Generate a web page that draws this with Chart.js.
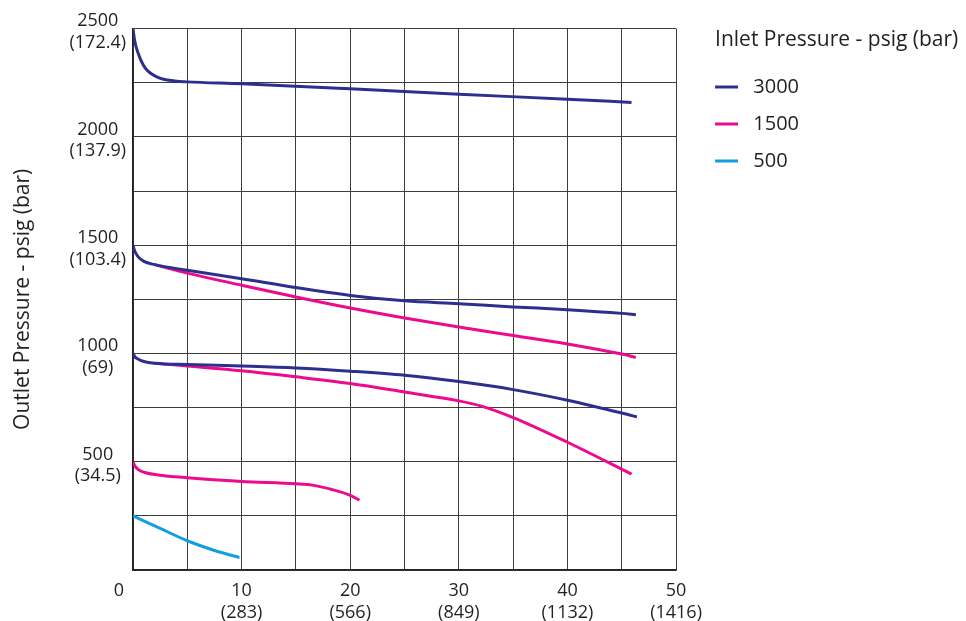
<!DOCTYPE html>
<html>
<head>
<meta charset="utf-8">
<title>Outlet vs flow</title>
<script src="https://cdn.jsdelivr.net/npm/chart.js@4.4.1/dist/chart.umd.min.js"></script>
<style>
  html, body { margin: 0; padding: 0; background: #fff; }
  #wrap { width: 966px; height: 621px; position: relative; }
</style>
</head>
<body>
<div id="wrap"><canvas id="pressureChart"></canvas></div>
<script>
// Inlet 3000 psig curves
const flow3000a = [0, 0.15, 0.46, 1.08, 2.3, 3.85, 5, 10, 20, 30, 40, 45.9];
const outlet3000a = [2500, 2445, 2388, 2321, 2275, 2258, 2254, 2245, 2222, 2197, 2174, 2159];
const flow3000b = [0, 0.15, 0.46, 1, 2, 5, 10, 15, 20, 25, 30, 35, 40, 45, 46.3];
const outlet3000b = [1500, 1474, 1447, 1425, 1410, 1384, 1345, 1304, 1268, 1243, 1230, 1215, 1202, 1185, 1179];
const flow3000c = [0, 0.15, 0.46, 1, 2, 5, 10, 15, 20, 25, 30, 35, 40, 45, 46.4];
const outlet3000c = [1000, 986, 974, 963, 955, 949, 942, 933, 918, 899, 870, 833, 784, 725, 707];

// Inlet 1500 psig curves
const flow1500a = [2, 5, 10, 15, 20, 25, 30, 35, 40, 45, 46.3];
const outlet1500a = [1410, 1371, 1315, 1261, 1210, 1164, 1122, 1083, 1044, 997, 982];
const flow1500b = [2, 5, 10, 15, 20, 25, 30, 32, 35, 40, 45.9];
const outlet1500b = [955, 942, 920, 892, 861, 822, 781, 758, 704, 590, 443];
const flow1500c = [0, 0.15, 0.46, 1.08, 2.3, 5, 10, 15, 16.5, 18.3, 20, 20.85];
const outlet1500c = [500, 483, 465, 450, 439, 426, 409, 398, 392, 372, 345, 322];

// Inlet 500 psig curve
const flow500a = [0, 2.5, 5, 7.5, 9.8];
const outlet500a = [250, 192, 135, 90, 58];

// tick labels
const xTickValues = [0, 10, 20, 30, 40, 50];
const xTickLpm = ['', '(283)', '(566)', '(849)', '(1132)', '(1416)'];
const yTickValues = [500, 1000, 1500, 2000, 2500];
const yTickBar = ['(34.5)', '(69)', '(103.4)', '(137.9)', '(172.4)'];

const seriesLabels = ['3000', '1500', '500'];
const seriesColors = ['#2d2f8f', '#ec0b8d', '#129fdf'];
const legendTitle = 'Inlet Pressure - psig (bar)';

const textColor = '#231f20';
Chart.defaults.font.family = "'Open Sans', sans-serif";
Chart.defaults.color = textColor;

// join several curves into one dataset, broken by a null point
function joinCurves(curves) {
  const pts = [];
  curves.forEach((c, i) => {
    if (i > 0) pts.push({ x: c[0][0], y: null });
    c[0].forEach((x, j) => pts.push({ x: x, y: c[1][j] }));
  });
  return pts;
}

const curveSets = [
  [[flow3000a, outlet3000a], [flow3000b, outlet3000b], [flow3000c, outlet3000c]],
  [[flow1500a, outlet1500a], [flow1500b, outlet1500b], [flow1500c, outlet1500c]],
  [[flow500a, outlet500a]]
];

const datasets = curveSets.map((curves, i) => ({
  label: seriesLabels[i],
  data: joinCurves(curves),
  borderColor: seriesColors[i],
  backgroundColor: seriesColors[i],
  borderWidth: 3,
  pointRadius: 0,
  spanGaps: false,
  cubicInterpolationMode: 'monotone',
  fill: false
}));

// legend title is wider than the legend box (which clips), so draw it here
const legendTitlePlugin = {
  id: 'legendTitleText',
  afterDraw(chart) {
    const lg = chart.legend;
    const ctx = chart.ctx;
    ctx.save();
    ctx.font = "21px 'Open Sans', sans-serif";
    ctx.fillStyle = textColor;
    ctx.textAlign = 'left';
    ctx.textBaseline = 'middle';
    ctx.fillText(legendTitle, lg.left + lg.options.labels.padding, lg.top + 12);
    ctx.restore();
  }
};

const gridColor = '#3d3d3d';

new Chart(document.getElementById('pressureChart'), {
  type: 'line',
  data: { datasets: datasets },
  plugins: [legendTitlePlugin],
  options: {
    responsive: true,
    maintainAspectRatio: false,
    animation: false,
    layout: { padding: { top: 28, right: 157, bottom: 0, left: 0 } },
    scales: {
      x: {
        type: 'linear',
        min: 0,
        max: 50,
        grid: { color: gridColor, lineWidth: 1, drawTicks: false },
        border: { color: textColor, width: 1.5 },
        ticks: {
          stepSize: 5,
          padding: 10,
          maxRotation: 0,
          autoSkip: false,
          font: { size: 18 },
          callback: function (value) {
            const i = xTickValues.indexOf(value);
            if (i < 0) return '';
            if (i === 0) return '0      ';
            return [String(value), xTickLpm[i]];
          }
        },
        afterFit: function (scale) { scale.height = 51; }
      },
      y: {
        type: 'linear',
        min: 0,
        max: 2500,
        grid: { color: gridColor, lineWidth: 1, drawTicks: false },
        border: { color: textColor, width: 1.5 },
        title: {
          display: true,
          text: 'Outlet Pressure - psig (bar)',
          font: { size: 21 },
          padding: { top: 10, bottom: 0 }
        },
        ticks: {
          stepSize: 250,
          padding: 7,
          crossAlign: 'center',
          labelOffset: 3.5,
          autoSkip: false,
          font: { size: 18 },
          callback: function (value) {
            const i = yTickValues.indexOf(value);
            if (i < 0) return '';
            return [String(value), yTickBar[i]];
          }
        },
        afterFit: function (scale) { scale.width = 133; }
      },
      gap: {
        type: 'linear',
        position: 'right',
        display: true,
        grid: { display: false, drawTicks: false },
        border: { display: false },
        ticks: { display: false },
        afterFit: function (scale) { scale.width = 22; }
      }
    },
    plugins: {
      tooltip: { enabled: false },
      legend: {
        position: 'right',
        align: 'start',
        title: {
          display: true,
          text: '',
          position: 'start',
          font: { size: 20 },
          padding: { top: 2, bottom: 6 }
        },
        labels: {
          usePointStyle: true,
          pointStyle: 'line',
          pointStyleWidth: 23,
          padding: 17,
          color: textColor,
          font: { size: 20 },
          generateLabels: function (chart) {
            const items = Chart.defaults.plugins.legend.labels.generateLabels(chart);
            items.forEach(it => { it.text = ' ' + it.text; });
            return items;
          }
        }
      }
    }
  }
});
</script>
</body>
</html>
